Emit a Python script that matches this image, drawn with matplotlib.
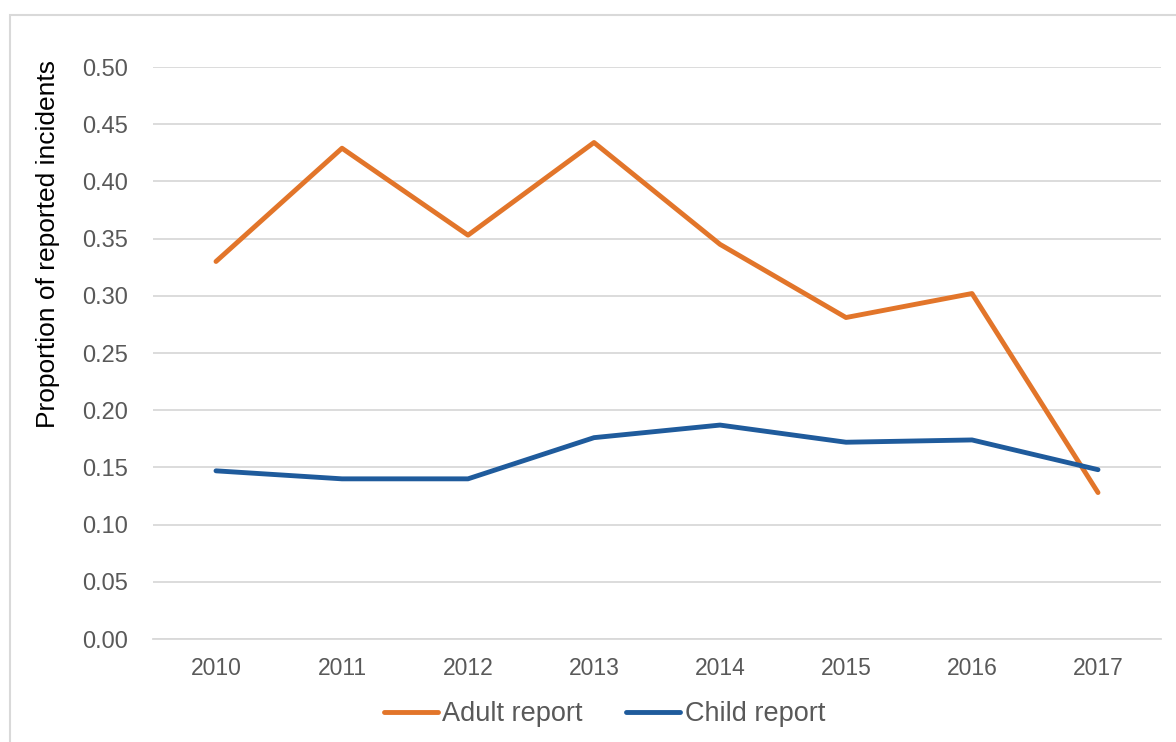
import matplotlib
matplotlib.use("Agg")
import matplotlib.pyplot as plt
from matplotlib.patches import Rectangle

years = ["2010", "2011", "2012", "2013", "2014", "2015", "2016", "2017"]
adult = [0.330, 0.429, 0.353, 0.434, 0.345, 0.281, 0.302, 0.128]
child = [0.147, 0.140, 0.140, 0.176, 0.187, 0.172, 0.174, 0.148]
yticks = [0.00, 0.05, 0.10, 0.15, 0.20, 0.25, 0.30, 0.35, 0.40, 0.45, 0.50]

plt.rcParams['font.family'] = ['Liberation Sans', 'DejaVu Sans']

fig = plt.figure(figsize=(11.76, 7.42), dpi=100)
fig.patches.append(Rectangle((10/1176, -0.05), 1.2, 1 - 15/742 + 0.05,
                             transform=fig.transFigure, fill=False,
                             edgecolor='#D9D9D9', linewidth=1.5))
ax = fig.add_axes([153/1176, 1 - 639/742, (1161 - 153)/1176, (639 - 67)/742])

x = list(range(len(years)))
ax.plot(x, adult, color='#E2752A', linewidth=3.5, solid_capstyle='round', label='Adult report', zorder=3)
ax.plot(x, child, color='#1F5B9C', linewidth=3.5, solid_capstyle='round', label='Child report', zorder=3)

ax.set_xlim(-0.5, len(years) - 0.5)
ax.set_ylim(0, 0.5)
ax.set_yticks(yticks)
ax.set_yticklabels([f"{v:.2f}" for v in yticks])
ax.set_xticks(x)
ax.set_xticklabels(years)
ax.yaxis.grid(True, color='#D9D9D9', linewidth=1.3)
ax.set_axisbelow(True)
for s in ['top', 'right', 'left']:
    ax.spines[s].set_visible(False)
ax.spines['bottom'].set_color('#D9D9D9')
ax.spines['bottom'].set_linewidth(1.3)
ax.tick_params(axis='y', length=0, labelsize=17, labelcolor='#595959', pad=18)
ax.tick_params(axis='x', length=0, labelsize=16.5, labelcolor='#595959', pad=13)
ax.set_ylabel('Proportion of reported incidents', fontsize=19, color='#000000')
ax.yaxis.set_label_coords(-0.092, 0.69)

leg = ax.legend(loc='upper center', bbox_to_anchor=(0.448, -0.066), ncol=2, frameon=False,
                fontsize=19.5, handlelength=2.0, handletextpad=0.15, columnspacing=1.6)
for t in leg.get_texts():
    t.set_color('#595959')

fig.savefig('out.png', dpi=100)
